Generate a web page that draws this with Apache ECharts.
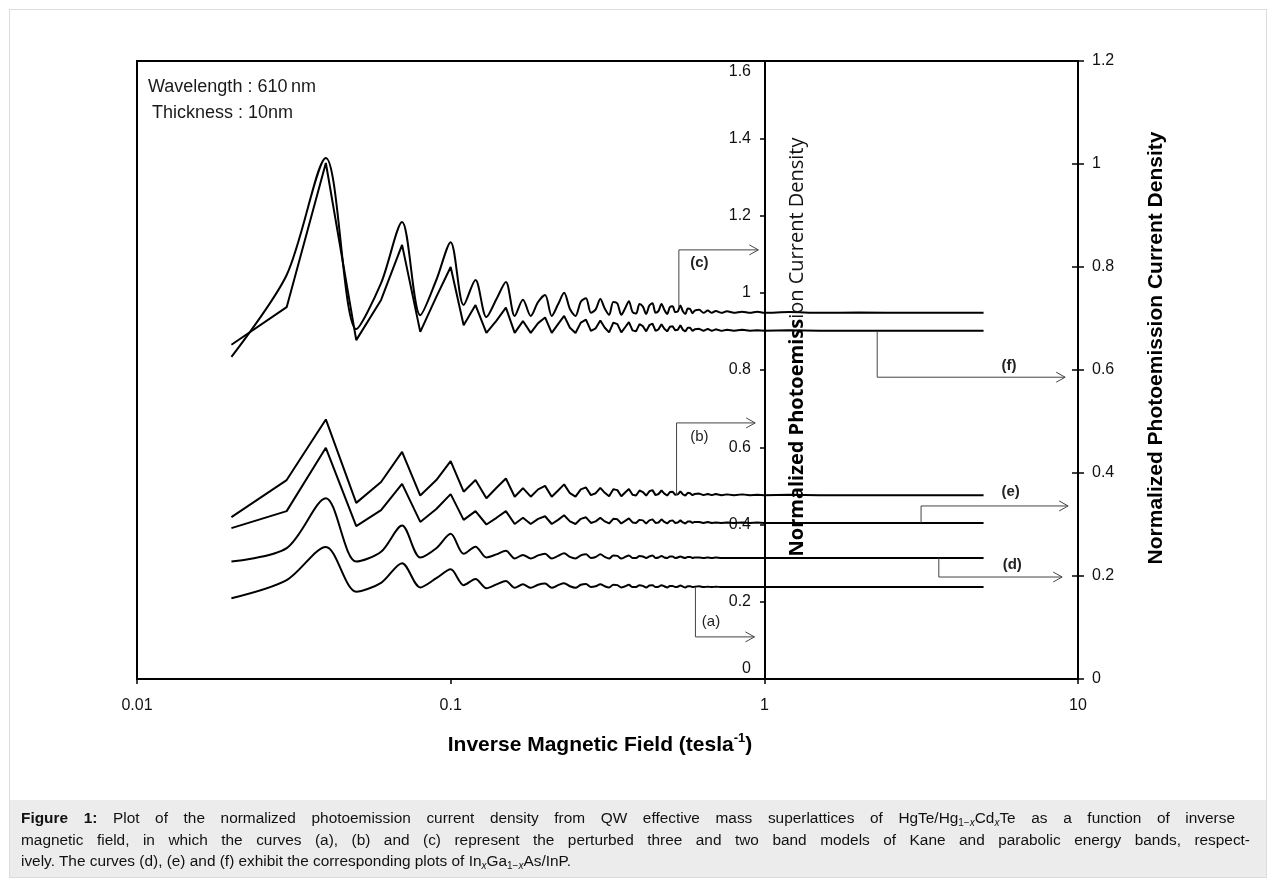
<!DOCTYPE html>
<html>
<head>
<meta charset="utf-8">
<title>Normalized photoemission current density vs inverse magnetic field</title>
<script src="https://cdn.jsdelivr.net/npm/echarts@6/dist/echarts.min.js"></script>
<style>
  html, body { margin: 0; padding: 0; background: #fff; }
  #frame { position: absolute; left: 9px; top: 9px; width: 1258px; height: 869px; border: 1px solid #dcdcdc; box-sizing: border-box; }
  #chart { position: absolute; left: 0; top: 0; width: 1275px; height: 884px; }
  #caption {
    position: absolute; left: 10px; top: 800px; width: 1256px; height: 77px;
    background: #ececec; box-sizing: border-box; padding-top: 7px;
    font-family: "Liberation Sans", Arial, sans-serif; font-size: 15.4px; line-height: 21.5px; color: #111;
  }
  #caption .ln { position: relative; left: 11px; white-space: nowrap; }
  #caption .j { text-align: justify; text-align-last: justify; white-space: normal; }
  #caption sub { font-size: 10px; line-height: 0; vertical-align: -3px; }
</style>
</head>
<body>
<div id="frame"></div>
<div id="chart"></div>
<div id="caption">
  <div class="ln j" style="width:1214px"><b>Figure 1:</b> Plot of the normalized photoemission current density from QW effective mass superlattices of HgTe/Hg<sub>1−<i>x</i></sub>Cd<sub><i>x</i></sub>Te as a function of inverse</div>
  <div class="ln j" style="width:1229px">magnetic field, in which the curves (a), (b) and (c) represent the perturbed three and two band models of Kane and parabolic energy bands, respect-</div>
  <div class="ln">ively. The curves (d), (e) and (f) exhibit the corresponding plots of In<sub><i>x</i></sub>Ga<sub>1−<i>x</i></sub>As/InP.</div>
</div>
<script>
// Inverse magnetic field (tesla^-1) at which each curve is sampled
const inverseField = [
  0.02, 0.03, 0.04, 0.05, 0.06, 0.07, 0.08, 0.09, 0.10, 0.11, 0.12, 0.13,
  0.14, 0.15, 0.16, 0.17, 0.18, 0.19, 0.20, 0.21, 0.22, 0.23, 0.24, 0.25, 0.26, 0.27, 0.28, 0.29,
  0.30, 0.31, 0.32, 0.33, 0.34, 0.35, 0.36, 0.37, 0.38, 0.39, 0.40, 0.41, 0.42, 0.43, 0.44, 0.45,
  0.46, 0.47, 0.48, 0.49, 0.50, 0.51, 0.52, 0.53, 0.54, 0.55, 0.56, 0.57, 0.58, 0.59, 0.60,
  0.62, 0.64, 0.66, 0.68, 0.70, 0.73, 0.76, 0.80, 0.85, 0.90, 0.95, 1.0, 1.2, 1.5, 2, 3, 5
];

// HgTe/Hg1-xCdxTe curves, read on the inner (left) axis
const curveA = [
  0.209, 0.256, 0.342, 0.226, 0.249, 0.300, 0.237, 0.261, 0.284, 0.243, 0.259, 0.235,
  0.245, 0.254, 0.236, 0.245, 0.236, 0.244, 0.247, 0.236, 0.243, 0.248, 0.240, 0.236, 0.244, 0.246, 0.238, 0.240,
  0.245, 0.240, 0.237, 0.244, 0.243, 0.237, 0.240, 0.244, 0.238, 0.238, 0.243, 0.241, 0.237, 0.242, 0.243, 0.238,
  0.239, 0.243, 0.240, 0.237, 0.241, 0.241, 0.238, 0.239, 0.242, 0.239, 0.237, 0.240, 0.240, 0.238, 0.239,
  0.240, 0.238, 0.239, 0.238, 0.239, 0.238, 0.238, 0.238, 0.238, 0.238, 0.238, 0.238, 0.238, 0.238, 0.238, 0.238, 0.238
];
const curveB = [
  0.419, 0.515, 0.672, 0.456, 0.510, 0.588, 0.475, 0.515, 0.564, 0.485, 0.515, 0.468,
  0.495, 0.519, 0.472, 0.494, 0.472, 0.491, 0.500, 0.472, 0.488, 0.504, 0.481, 0.472, 0.491, 0.496, 0.476, 0.481,
  0.495, 0.482, 0.473, 0.491, 0.489, 0.473, 0.483, 0.492, 0.477, 0.475, 0.488, 0.484, 0.475, 0.486, 0.489, 0.476,
  0.479, 0.488, 0.480, 0.475, 0.484, 0.485, 0.477, 0.478, 0.486, 0.478, 0.475, 0.482, 0.481, 0.476, 0.479,
  0.480, 0.476, 0.479, 0.476, 0.479, 0.476, 0.478, 0.476, 0.478, 0.476, 0.477, 0.476, 0.477, 0.476, 0.476, 0.476, 0.476
];
const curveC = [
  0.834, 1.046, 1.349, 0.906, 1.025, 1.183, 0.942, 1.033, 1.131, 0.968, 1.033, 0.937,
  0.984, 1.028, 0.940, 0.982, 0.940, 0.976, 0.994, 0.940, 0.970, 1.000, 0.958, 0.940, 0.977, 0.986, 0.948, 0.957,
  0.984, 0.959, 0.943, 0.976, 0.972, 0.943, 0.960, 0.978, 0.950, 0.946, 0.971, 0.964, 0.945, 0.967, 0.973, 0.948,
  0.953, 0.971, 0.956, 0.945, 0.963, 0.965, 0.950, 0.952, 0.967, 0.952, 0.945, 0.959, 0.958, 0.947, 0.954,
  0.956, 0.948, 0.954, 0.948, 0.953, 0.948, 0.952, 0.948, 0.951, 0.948, 0.951, 0.948, 0.950, 0.948, 0.949, 0.948, 0.948
];
// InxGa1-xAs/InP curves, read on the right axis
const curveD = [
  0.228, 0.254, 0.351, 0.228, 0.247, 0.298, 0.236, 0.254, 0.282, 0.243, 0.257, 0.236,
  0.242, 0.249, 0.234, 0.241, 0.234, 0.240, 0.243, 0.234, 0.239, 0.244, 0.237, 0.234, 0.240, 0.242, 0.235, 0.237,
  0.242, 0.237, 0.234, 0.240, 0.239, 0.234, 0.237, 0.240, 0.235, 0.235, 0.239, 0.238, 0.235, 0.238, 0.240, 0.235,
  0.236, 0.239, 0.236, 0.235, 0.238, 0.238, 0.235, 0.236, 0.238, 0.236, 0.235, 0.237, 0.237, 0.235, 0.236,
  0.236, 0.235, 0.236, 0.235, 0.236, 0.235, 0.235, 0.235, 0.235, 0.235, 0.235, 0.235, 0.235, 0.235, 0.235, 0.235, 0.235
];
const curveE = [
  0.293, 0.326, 0.449, 0.297, 0.328, 0.379, 0.305, 0.330, 0.359, 0.309, 0.326, 0.300,
  0.313, 0.326, 0.301, 0.313, 0.301, 0.311, 0.316, 0.301, 0.309, 0.318, 0.306, 0.301, 0.311, 0.314, 0.303, 0.306,
  0.313, 0.306, 0.302, 0.311, 0.310, 0.302, 0.307, 0.312, 0.304, 0.303, 0.309, 0.308, 0.302, 0.308, 0.310, 0.303,
  0.304, 0.310, 0.305, 0.302, 0.307, 0.308, 0.303, 0.304, 0.308, 0.304, 0.302, 0.306, 0.306, 0.303, 0.305,
  0.305, 0.303, 0.305, 0.303, 0.304, 0.303, 0.304, 0.303, 0.304, 0.303, 0.304, 0.303, 0.303, 0.303, 0.303, 0.303, 0.303
];
const curveF = [
  0.649, 0.722, 1.002, 0.658, 0.736, 0.843, 0.674, 0.742, 0.800, 0.687, 0.726, 0.672,
  0.696, 0.721, 0.672, 0.695, 0.672, 0.691, 0.702, 0.672, 0.689, 0.705, 0.682, 0.672, 0.692, 0.698, 0.676, 0.681,
  0.696, 0.682, 0.673, 0.692, 0.689, 0.673, 0.683, 0.693, 0.677, 0.675, 0.689, 0.685, 0.675, 0.687, 0.690, 0.676,
  0.679, 0.689, 0.680, 0.675, 0.684, 0.685, 0.677, 0.678, 0.687, 0.678, 0.675, 0.682, 0.682, 0.676, 0.679,
  0.680, 0.676, 0.680, 0.676, 0.679, 0.676, 0.678, 0.676, 0.678, 0.676, 0.677, 0.676, 0.677, 0.676, 0.676, 0.676, 0.676
];

// Axis tick labels
const xTickLabels = { 0.01: '0.01', 0.1: '0.1', 1: '1', 10: '10' };
const leftRange = [0, 1.6];
const rightRange = [0, 1.2];

// Callout brackets: start on a curve, bend, then point at the axis they are read on
const callouts = [
  { text: '(a)', axis: 0, x0: 0.603, y0: 0.238, y1: 0.109, x1: 0.93,  lx: 0.676, ly: 0.148, bold: false },
  { text: '(b)', axis: 0, x0: 0.525, y0: 0.476, y1: 0.663, x1: 0.935, lx: 0.621, ly: 0.627, bold: false },
  { text: '(c)', axis: 0, x0: 0.534, y0: 0.960, y1: 1.111, x1: 0.957, lx: 0.621, ly: 1.077, bold: true },
  { text: '(d)', axis: 1, x0: 3.6,   y0: 0.235, y1: 0.198, x1: 8.9,   lx: 6.17,  ly: 0.221, bold: true },
  { text: '(e)', axis: 1, x0: 3.16,  y0: 0.303, y1: 0.336, x1: 9.3,   lx: 6.1,   ly: 0.363, bold: true },
  { text: '(f)', axis: 1, x0: 2.29,  y0: 0.676, y1: 0.586, x1: 9.1,   lx: 6.03,  ly: 0.608, bold: true }
];

const FONT = '"Liberation Sans", Arial, sans-serif';

function pairs(ys) { return inverseField.map((x, i) => [x, ys[i]]); }

function curve(name, ys, axis, smooth) {
  return {
    name, type: 'line', yAxisIndex: axis, data: pairs(ys),
    showSymbol: false, smooth: smooth ? 0.3 : false,
    lineStyle: { color: '#000', width: 2 }, z: 3
  };
}

const chart = echarts.init(document.getElementById('chart'));

const option = {
  animation: false,
  backgroundColor: 'transparent',
  textStyle: { fontFamily: FONT },
  grid: { left: 137, top: 61, width: 941, height: 618, show: true, borderColor: '#000', borderWidth: 2 },
  xAxis: {
    type: 'log', logBase: 10, min: 0.01, max: 10,
    axisLine: { show: true, lineStyle: { color: '#000', width: 2 } },
    axisTick: { show: true, length: 5, lineStyle: { color: '#000', width: 1.5 } },
    minorTick: { show: false }, splitLine: { show: false },
    axisLabel: { fontSize: 16, color: '#111', margin: 19, fontFamily: FONT,
                 formatter: v => xTickLabels[v] !== undefined ? xTickLabels[v] : String(v) }
  },
  yAxis: [
    {
      type: 'value', min: leftRange[0], max: leftRange[1], interval: 0.2,
      position: 'left', offset: -628,
      axisLine: { show: true, lineStyle: { color: '#000', width: 2 } },
      axisTick: { show: true, length: 5, lineStyle: { color: '#000', width: 1.5 } },
      splitLine: { show: false },
      axisLabel: {
        fontSize: 16, color: '#111', margin: 14, fontFamily: FONT,
        formatter: v => Math.abs(v - 1.6) < 1e-6 ? '{top|1.6}' : (Math.abs(v) < 1e-6 ? '{bot|0}' : String(+v.toFixed(1))),
        rich: {
          top: { fontSize: 16, color: '#111', fontFamily: FONT, padding: [22, 0, 0, 0] },
          bot: { fontSize: 16, color: '#111', fontFamily: FONT, padding: [0, 0, 20, 0] }
        }
      }
    },
    {
      type: 'value', min: rightRange[0], max: rightRange[1], interval: 0.2,
      position: 'right',
      axisLine: { show: true, lineStyle: { color: '#000', width: 2 } },
      axisTick: { show: true, length: 6, lineStyle: { color: '#000', width: 1.5 } },
      splitLine: { show: false },
      axisLabel: { fontSize: 16, color: '#111', margin: 14, fontFamily: FONT,
                   formatter: v => String(+v.toFixed(1)) }
    },
    {
      // inner half of the crossing ticks on the right axis
      type: 'value', min: rightRange[0], max: rightRange[1], interval: 0.2,
      position: 'right',
      axisLine: { show: false },
      axisTick: { show: true, inside: true, length: 6, lineStyle: { color: '#000', width: 1.5 } },
      axisLabel: { show: false }, splitLine: { show: false }
    }
  ],
  series: [
    curve('(a)', curveA, 0, true),
    curve('(b)', curveB, 0, false),
    curve('(c)', curveC, 0, true),
    curve('(d)', curveD, 1, true),
    curve('(e)', curveE, 1, false),
    curve('(f)', curveF, 1, false)
  ],
  graphic: [
    { type: 'text', x: 148, y: 87, style: { text: 'Wavelength : 610\u2009nm', font: '18px ' + FONT, fill: '#1a1a1a', verticalAlign: 'middle' } },
    { type: 'text', x: 152, y: 113, style: { text: 'Thickness : 10nm', font: '18px ' + FONT, fill: '#1a1a1a', verticalAlign: 'middle' } },
    { type: 'text', x: 797, y: 347, rotation: Math.PI / 2, z: 10,
      style: { text: '{b|Normalized Photoemiss}{r|ion Current Density}', align: 'center', verticalAlign: 'middle',
               rich: { b: { font: 'bold 20px "Open Sans", ' + FONT, fill: '#000' },
                       r: { font: '20px "Open Sans", ' + FONT, fill: '#111' } } } },
    { type: 'text', x: 1156, y: 348, rotation: Math.PI / 2,
      style: { text: 'Normalized Photoemission Current Density', font: 'bold 21px ' + FONT, fill: '#000',
               align: 'center', verticalAlign: 'middle' } },
    { type: 'text', x: 600, y: 745,
      style: { text: '{t|Inverse Magnetic Field (tesla}{s|-1}{t|)}', align: 'center', verticalAlign: 'middle',
               rich: { t: { font: 'bold 21px ' + FONT, fill: '#000' },
                       s: { font: 'bold 13px ' + FONT, fill: '#000', padding: [0, 0, 14, 0] } } } }
  ]
};

chart.setOption(option);

// Callout brackets and their labels, placed in data coordinates
function drawCallouts() {
  const els = [];
  callouts.forEach(c => {
    const finder = { xAxisIndex: 0, yAxisIndex: c.axis };
    const p0 = chart.convertToPixel(finder, [c.x0, c.y0]);
    const p1 = chart.convertToPixel(finder, [c.x0, c.y1]);
    const p2 = chart.convertToPixel(finder, [c.x1, c.y1]);
    const pl = chart.convertToPixel(finder, [c.lx, c.ly]);
    els.push({ type: 'polyline', z: 5, shape: { points: [p0, p1, p2] }, style: { stroke: '#444', lineWidth: 1, fill: null } });
    els.push({ type: 'polyline', z: 5, shape: { points: [[p2[0] - 9, p2[1] - 5], p2, [p2[0] - 9, p2[1] + 5]] },
               style: { stroke: '#444', lineWidth: 1, fill: null } });
    els.push({ type: 'text', z: 5, x: pl[0], y: pl[1],
               style: { text: c.text, font: (c.bold ? 'bold ' : '') + '15px ' + FONT, fill: '#222', align: 'center', verticalAlign: 'middle' } });
  });
  chart.setOption({ graphic: option.graphic.concat(els) }, { replaceMerge: ['graphic'] });
}
drawCallouts();
</script>
</body>
</html>
